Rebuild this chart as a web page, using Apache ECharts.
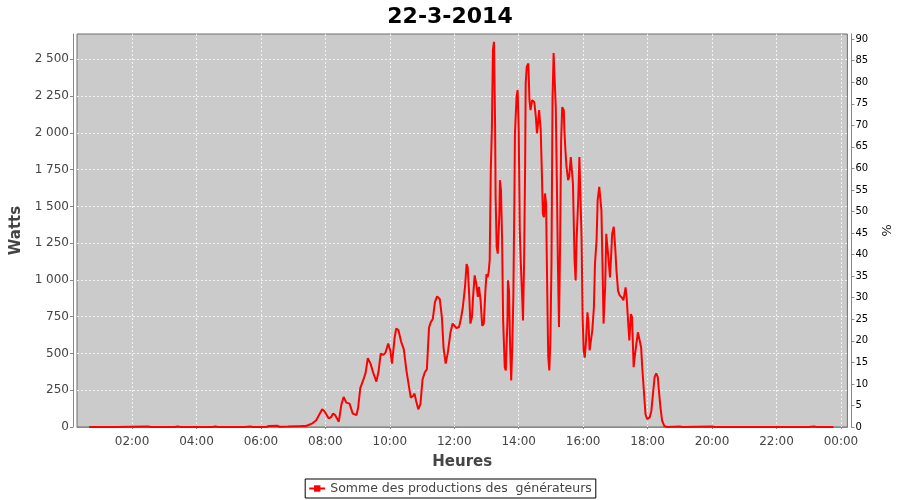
<!DOCTYPE html>
<html><head><meta charset="utf-8">
<script src="https://cdn.jsdelivr.net/npm/echarts@6/dist/echarts.min.js"></script>
<style>html,body{margin:0;padding:0;background:#fff}#c{width:900px;height:500px}</style>
</head><body><div id="c"></div>
<script>
const chartTitle = '22-3-2014';
const seriesName = 'Somme des productions des  générateurs';
const times = ['00:40','01:30','02:30','02:35','03:20','03:25','03:30','04:30','04:35','04:40','05:30','05:40','05:45','06:10','06:15','06:30','06:35','06:50','07:05','07:15','07:24','07:27','07:36','07:43','07:49','07:54','07:58','08:06','08:11','08:14','08:18','08:25','08:30','08:34','08:39','08:45','08:51','08:58','09:01','09:05','09:10','09:15','09:19','09:24','09:30','09:35','09:39','09:43','09:48','09:52','09:57','10:01','10:04','10:09','10:12','10:16','10:21','10:26','10:31','10:36','10:39','10:43','10:46','10:49','10:53','10:57','11:01','11:05','11:09','11:13','11:16','11:20','11:24','11:28','11:33','11:37','11:40','11:44','11:48','11:53','11:57','11:59','12:04','12:09','12:13','12:16','12:20','12:23','12:25','12:28','12:30','12:33','12:35','12:38','12:41','12:44','12:46','12:49','12:52','12:55','12:58','13:00','13:02','13:04','13:06','13:08','13:10','13:12','13:14','13:16','13:17','13:19','13:21','13:24','13:25','13:27','13:29','13:31','13:34','13:36','13:39','13:40','13:42','13:44','13:46','13:48','13:50','13:52','13:53','13:56','13:58','14:00','14:02','14:04','14:07','14:08','14:10','14:12','14:13','14:15','14:18','14:20','14:22','14:25','14:29','14:32','14:34','14:36','14:38','14:41','14:43','14:45','14:47','14:49','14:51','14:52','14:54','14:55','14:57','14:59','15:01','15:03','15:05','15:08','15:09','15:11','15:13','15:15','15:17','15:19','15:21','15:24','15:25','15:27','15:29','15:32','15:34','15:37','15:39','15:41','15:44','15:46','15:48','15:51','15:53','15:55','15:57','15:59','16:01','16:03','16:05','16:08','16:10','16:12','16:15','16:17','16:20','16:22','16:25','16:27','16:30','16:32','16:34','16:36','16:38','16:40','16:41','16:43','16:46','16:48','16:50','16:52','16:54','16:57','17:00','17:02','17:05','17:08','17:12','17:15','17:19','17:21','17:24','17:26','17:29','17:31','17:34','17:36','17:39','17:42','17:45','17:48','17:50','17:53','17:56','17:59','18:04','18:07','18:10','18:13','18:16','18:19','18:21','18:24','18:27','18:31','18:36','19:00','19:05','20:00','20:05','21:00','22:00','23:00','23:10','23:15','23:46'];
const watts = [0,0,3,0,0,3,0,0,3,0,0,3,0,0,7,8,2,3,5,6,7,18,25,46,87,120,109,59,68,91,82,36,155,204,166,159,91,82,131,264,313,370,468,431,359,309,377,499,490,506,567,518,431,608,670,659,581,529,381,268,200,211,227,177,120,155,325,370,393,676,710,734,847,888,870,745,540,431,506,645,703,713,673,680,748,816,952,1108,1086,884,703,748,884,1031,975,884,952,861,688,703,926,1040,1017,1053,1134,1746,2019,2564,2619,2064,1565,1224,1179,1451,1678,1610,1292,725,407,385,725,997,926,540,317,540,884,1565,1997,2246,2291,2019,1338,1108,834,725,1108,1792,2337,2450,2472,2222,2154,2222,2209,2106,1997,2063,2154,2018,1746,1449,1427,1588,1520,1224,703,476,385,589,1108,2243,2542,2529,2175,1679,1108,680,1224,1950,2175,2154,2018,1882,1768,1679,1700,1836,1848,1655,1134,997,1292,1565,1836,1836,1292,748,521,472,566,780,703,521,521,657,812,1108,1270,1543,1633,1633,1475,1108,703,703,952,1313,1313,1108,1017,1157,1313,1361,1202,1066,926,895,880,861,949,880,700,589,768,748,407,476,564,644,633,540,407,249,88,54,66,109,223,339,364,339,249,131,44,7,0,3,0,4,0,0,0,0,3,0,0];
const hourTicks = [120,240,360,480,600,720,840,960,1080,1200,1320,1440];
const wattTicks = [0,250,500,750,1000,1250,1500,1750,2000,2250,2500];
const pctTicks = [0,5,10,15,20,25,30,35,40,45,50,55,60,65,70,75,80,85,90];

function toMin(s){const p=s.split(':');return (+p[0])*60+(+p[1]);}
function pad(n,l){n=String(n);while(n.length<l)n='0'+n;return n;}
function fmtTime(m){m=Math.round(m)%1440;return pad(Math.floor(m/60),2)+':'+pad(m%60,2);}
function fmtW(v){v=Math.round(v);if(v>=1000){return Math.floor(v/1000)+' '+pad(v%1000,3);}return String(v);}

const data = times.map((t,i)=>[toMin(t), watts[i]]);
const FONT = 'DejaVu Sans';
const chart = echarts.init(document.getElementById('c'), null, {renderer:'canvas'});
chart.setOption({
  animation:false,
  backgroundColor:'#ffffff',
  title:{text:chartTitle,left:'center',top:1,textStyle:{fontFamily:FONT,fontSize:22,fontWeight:'bold',color:'#000'}},
  grid:{left:77,right:52,top:34,bottom:73,show:true,backgroundColor:'#cbcbcb',borderColor:'#6e6e6e',borderWidth:1},
  legend:{bottom:2,left:'center',data:[seriesName],borderColor:'#000',borderWidth:1,borderRadius:0,padding:[3,4,3,3],
    itemWidth:16,itemHeight:8,textStyle:{fontFamily:FONT,fontSize:12.5,color:'#444'}},
  xAxis:{type:'value',min:17.5,max:1452,offset:5,
    name:'Heures',nameLocation:'middle',nameGap:23,nameTextStyle:{fontFamily:FONT,fontSize:15,fontWeight:'bold',color:'#444'},
    axisLine:{show:true,lineStyle:{color:'#888',width:1}},
    axisTick:{show:true,length:2,customValues:hourTicks,lineStyle:{color:'#888'}},
    axisLabel:{customValues:hourTicks,formatter:fmtTime,fontFamily:FONT,fontSize:12,color:'#444',margin:4},
    splitLine:{show:true,lineStyle:{color:'#f2f2f2',type:[2,2],width:1}}},
  yAxis:[
    {type:'value',min:0,max:2672,offset:4,position:'left',
     name:'Watts',nameLocation:'middle',nameGap:46,nameTextStyle:{fontFamily:FONT,fontSize:15,fontWeight:'bold',color:'#444'},
     axisLine:{show:true,lineStyle:{color:'#888',width:1}},
     axisTick:{show:true,length:3,customValues:wattTicks,lineStyle:{color:'#888'}},
     axisLabel:{customValues:wattTicks,formatter:fmtW,fontFamily:FONT,fontSize:12,color:'#444',margin:4},
     splitLine:{show:true,lineStyle:{color:'#f2f2f2',type:[2,2],width:1}}},
    {type:'value',min:0,max:91.2,offset:4,position:'right',
     name:'%',nameLocation:'middle',nameGap:22,nameRotate:-90,nameTextStyle:{fontFamily:FONT,fontSize:13,color:'#222'},
     axisLine:{show:true,lineStyle:{color:'#888',width:1}},
     axisTick:{show:true,length:3,customValues:pctTicks,lineStyle:{color:'#888'}},
     axisLabel:{customValues:pctTicks,fontFamily:FONT,fontSize:10,color:'#000',margin:4},
     splitLine:{show:false}}
  ],
  series:[{name:seriesName,type:'line',data:data,yAxisIndex:0,showSymbol:false,symbol:'rect',symbolSize:3,
    itemStyle:{color:'#ff0000'},lineStyle:{color:'#ff0000',width:2},clip:true}]
});
</script>
</body></html>
